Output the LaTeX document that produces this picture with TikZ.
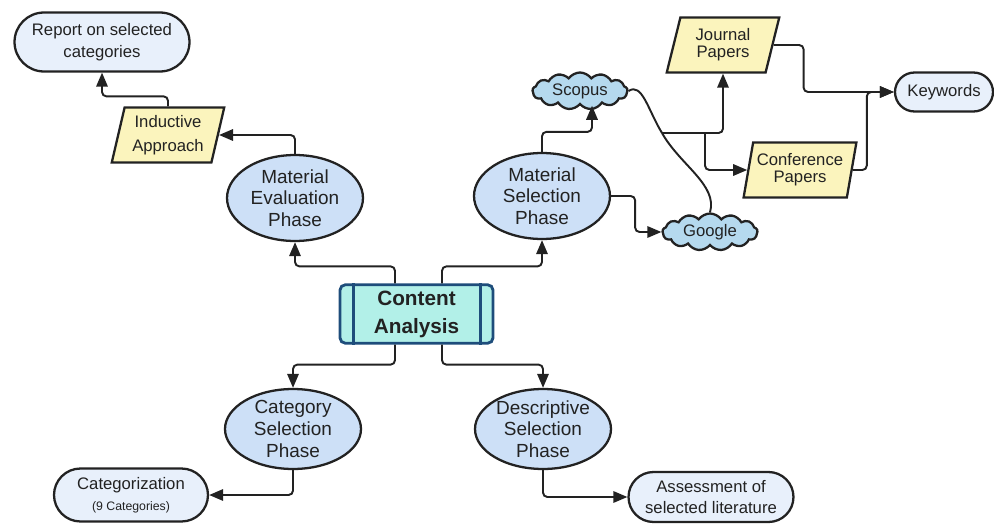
\documentclass[tikz,border=0pt]{standalone}
\usepackage{fontspec}
\setmainfont{Liberation Sans}
\usetikzlibrary{arrows.meta, calc, positioning, shapes.geometric, shapes.misc, shapes.symbols}

\definecolor{phaseblue}{HTML}{CDE0F7}
\definecolor{paleblue}{HTML}{E8F0FB}
\definecolor{paleyellow}{HTML}{FBF4BD}
\definecolor{cloudblue}{HTML}{B5D9EE}
\definecolor{caaqua}{HTML}{B2F0E8}
\definecolor{caborder}{HTML}{1E4D7B}
\definecolor{ink}{HTML}{222222}

\begin{document}
\begin{tikzpicture}[
            x=0.02cm, y=-0.02cm,
            font=\fontsize{9.5}{12.8}\selectfont,
            phase/.style={ellipse, draw=ink, line width=1.3pt, fill=phaseblue, text=ink,
                minimum width=2.72cm, minimum height=1.72cm, inner xsep=0pt, inner ysep=-6pt,
                align=center, font=\fontsize{10.8}{12.3}\selectfont},
            result/.style={rounded rectangle, draw=ink, line width=1.3pt, fill=paleblue,
                text=ink, inner sep=0pt, align=center},
            paper/.style={trapezium, trapezium left angle=75, trapezium right angle=105,
                trapezium stretches=true, draw=ink, line width=1.3pt, fill=paleyellow, text=ink,
                minimum width=2.26cm, minimum height=1.1cm, inner sep=0pt, align=center},
            source/.style={cloud, cloud puffs=13, cloud puff arc=110, cloud ignores aspect,
                draw=ink, line width=1.3pt, fill=cloudblue, text=ink,
                minimum width=1.9cm, minimum height=0.74cm, inner sep=0pt},
            analysis/.style={rectangle, rounded corners=3pt, draw=caborder, line width=1.6pt,
                fill=caaqua, text=ink, minimum width=3.06cm, minimum height=1.16cm,
                align=center, font=\bfseries\fontsize{11.8}{15.9}\selectfont},
            link/.style={-{Triangle[length=8pt,width=6.5pt]}, ink, line width=1.1pt, rounded corners=2.5pt},
        ]
            \useasboundingbox (0,0) rectangle (994,524);

            % --- Centre ---
            \node[analysis] (content) at (416.5,314) {Content\\Analysis};
            \foreach \side/\dx in {west/15, east/-14} {
                \draw[caborder, line width=1.6pt] ($(content.north \side)+(\dx,0)$) -- ($(content.south \side)+(\dx,0)$);
            }

            % --- Phases ---
            \node[phase] (evaluation) at (295,198) {Material\\Evaluation\\Phase};
            \node[phase] (selection) at (542,196) {Material\\Selection\\Phase};
            \node[phase, minimum height=1.6cm] (category) at (293,429) {Category\\Selection\\Phase};
            \node[phase, minimum height=1.6cm] (descriptive) at (543,429) {Descriptive\\Selection\\Phase};

            % --- Evaluation branch ---
            \node[paper, font=\fontsize{9.5}{13.6}\selectfont] (inductive) at (168,135) {Inductive\\Approach};
            \node[result, minimum width=3.5cm, minimum height=1.18cm] (report) at (102,42) {Report on selected\\categories};

            % --- Selection branch ---
            \node[source] (scopus) at (580,91) {Scopus};
            \node[source] (google) at (710,232) {Google};
            \node[paper, font=\fontsize{9.5}{9.8}\selectfont] (journal) at (723,45) {Journal\\Papers};
            \node[paper, font=\fontsize{9.5}{9.8}\selectfont] (conference) at (800,170) {Conference\\Papers};
            \node[result, minimum width=1.96cm, minimum height=0.78cm] (keywords) at (944,92) {Keywords};
            \coordinate (split) at (662,133);
            \coordinate (fork) at (705,133);

            % --- Lower branches ---
            \node[result, minimum width=3.08cm, minimum height=1.06cm] (categorization) at (131,495)
                {Categorization\\[-1pt]{\fontsize{7}{8}\selectfont (9 Categories)}};
            \node[result, minimum width=3.3cm, minimum height=1.0cm, font=\fontsize{9.5}{12}\selectfont] (assessment) at (711,497)
                {Assessment of\\selected literature};

            % --- Connectors ---
            \draw[link] ([xshift=-0.43cm]content.north) -- ++(0,-17) -| (evaluation.south);
            \draw[link] ([xshift=0.51cm]content.north) -- ++(0,-17) -| (selection.south);
            \draw[link] ([xshift=-0.43cm]content.south) -- ++(0,20) -| (category.north);
            \draw[link] ([xshift=0.51cm]content.south) -- ++(0,20) -| (descriptive.north);

            \draw[link] (evaluation.north) |- (inductive.east);
            \draw[link] (inductive.north) -- ++(0,-10) -| (report.south);

            \draw[link] (selection.north) -- ++(0,-20) -| ([xshift=0.24cm]scopus.south);
            \draw[link] (selection.east) -- ++(24,0) |- (google.west);
            \draw[ink, line width=1.1pt] (scopus.east) .. controls (642,82) and (648,110) .. (split);
            \draw[ink, line width=1.1pt] (split) .. controls (680,165) and (718,185) .. (google.north);
            \draw[link] (split) -| (journal.south);
            \draw[link] (fork) |- (conference.west);
            \draw[link] (journal.east) -- ++(30,0) |- (keywords.west);
            \draw[link] (conference.east) -- ++(14,0) |- (keywords.west);

            \draw[link] (category.south) |- (categorization.east);
            \draw[link] (descriptive.south) |- (assessment.west);
        \end{tikzpicture}
\end{document}
